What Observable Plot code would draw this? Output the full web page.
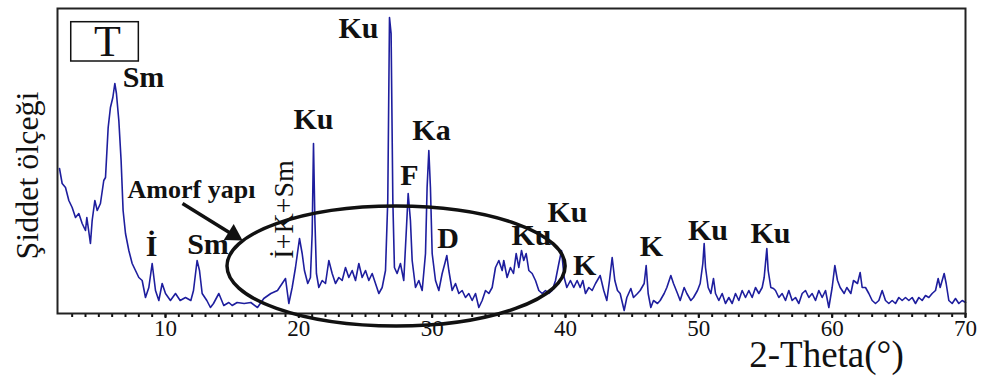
<!DOCTYPE html>
<html><head><meta charset="utf-8">
<script src="https://cdn.jsdelivr.net/npm/d3@7"></script>
<script src="https://cdn.jsdelivr.net/npm/@observablehq/plot@0.6"></script>
<style>body{margin:0;background:#fff} svg{display:block}</style>
</head><body><div id="chart"></div>
<script>
// XRD trace: 2-theta (degrees) and relative intensity
const theta = [2.05,2.25,2.5,2.75,3.0,3.25,3.5,3.75,4.0,4.1,4.37,4.5,4.7,4.88,5.12,5.37,5.5,5.7,5.87,6.05,6.2,6.32,6.5,6.67,6.82,7.0,7.25,7.5,7.75,8.0,8.25,8.5,8.75,9.0,9.25,9.5,9.75,10.0,10.37,10.75,11.1,11.5,11.9,12.1,12.37,12.55,12.75,13.1,13.37,13.6,14.0,14.37,14.75,15.0,15.37,15.9,16.4,16.9,17.37,17.9,18.4,18.75,19.0,19.25,19.5,19.75,20.05,20.25,20.42,20.67,20.87,21.0,21.1,21.2,21.32,21.5,21.75,22.0,22.25,22.5,22.75,23.0,23.25,23.5,23.75,24.0,24.25,24.5,24.75,25.0,25.25,25.5,25.75,26.0,26.25,26.5,26.67,26.8,26.92,27.05,27.17,27.37,27.62,27.87,28.05,28.2,28.37,28.5,28.75,29.0,29.25,29.5,29.62,29.75,29.87,30.0,30.25,30.5,30.75,30.95,31.1,31.25,31.5,31.75,32.0,32.25,32.5,32.75,33.0,33.25,33.5,33.75,34.0,34.25,34.5,34.75,35.0,35.25,35.37,35.62,35.87,36.1,36.3,36.5,36.7,36.87,37.05,37.25,37.5,37.75,38.0,38.25,38.5,38.75,39.0,39.25,39.5,39.7,39.9,40.1,40.37,40.62,40.87,41.1,41.3,41.5,41.75,42.0,42.25,42.6,42.87,43.1,43.3,43.5,43.7,43.9,44.1,44.4,44.6,44.9,45.1,45.4,45.6,45.9,46.05,46.2,46.4,46.6,46.9,47.1,47.4,47.6,47.9,48.1,48.4,48.6,48.9,49.1,49.4,49.6,49.9,50.1,50.3,50.4,50.5,50.7,50.9,51.1,51.25,51.5,51.75,52.0,52.25,52.5,52.75,53.0,53.25,53.5,53.75,54.0,54.25,54.5,54.75,54.9,55.1,55.2,55.4,55.6,55.75,56.0,56.25,56.5,56.75,57.0,57.25,57.5,57.75,58.0,58.25,58.5,58.75,59.0,59.25,59.5,59.75,60.0,60.2,60.4,60.6,60.9,61.1,61.4,61.6,61.9,62.1,62.25,62.5,62.75,63.0,63.25,63.5,63.75,64.0,64.25,64.5,64.75,65.0,65.25,65.5,65.75,66.0,66.25,66.5,66.75,67.0,67.25,67.5,67.75,67.95,68.1,68.4,68.55,68.75,69.0,69.25,69.5,69.75,70.0];
const intensity = [145,130,126,113,106,96,100,90,83,96,70,93,113,103,110,133,136,186,206,216,230,220,193,153,103,80,63,50,43,36,33,16,26,50,23,13,30,20,13,20,13,16,13,23,53,43,20,13,6,10,20,8,11,8,11,10,11,6,15,20,23,30,35,10,26,46,75,60,43,30,36,80,170,96,40,26,33,30,53,40,30,36,33,46,36,43,33,50,36,43,33,40,30,20,26,43,113,296,280,113,46,40,50,33,80,120,93,53,26,33,23,60,126,163,126,60,33,23,40,50,58,43,23,30,20,23,16,20,13,20,6,13,23,20,26,46,53,43,53,36,46,40,60,46,63,53,60,43,40,33,23,20,23,20,23,33,50,63,36,26,33,26,33,26,33,20,26,23,30,38,23,13,33,56,33,23,20,3,16,25,16,20,23,30,48,20,6,13,10,13,20,26,38,30,20,13,26,20,13,16,23,30,50,70,46,26,20,35,20,13,20,10,16,10,20,13,23,16,23,16,26,20,26,36,65,43,26,25,23,16,20,13,23,13,16,10,20,23,16,20,13,23,16,23,6,26,48,33,26,20,26,20,33,30,41,26,26,20,13,10,13,23,13,10,13,10,16,13,16,13,16,10,16,13,18,16,20,23,35,26,40,30,13,10,15,10,13,11];

// Axis ticks
const majorTicks = [10, 20, 30, 40, 50, 60, 70];
const minorTicks = d3.range(3, 71);

// Phase labels (bold) at their positions
const peakText  = ["Sm", "Ku", "Ku", "Ka", "F", "D", "Ku", "Ku", "K", "K", "Ku", "Ku", "İ", "Sm"];
const peakTheta = [8.35, 24.475, 21.1, 29.95, 28.3, 31.2, 37.45, 40.15, 41.43, 46.45, 50.69, 55.375, 8.95, 13.19];
const peakInt   = [236, 285, 194, 183, 138, 75, 78, 101, 48, 67, 83, 80.5, 67.5, 69.5];

// Other annotations
const amorfText = ["Amorf yapı"]; const amorfTheta = [11.95]; const amorfInt = [124];
const mixText = ["İ+K+Sm"]; const mixTheta = [18.925]; const mixInt = [104];
const sampleText = ["T"]; const sampleTheta = [5.65]; const sampleInt = [271.5];
const sampleBox = [2.93, 8.0, 252, 291.3];           // x1, x2, y1, y2
const arrowTail = [11.275, 110]; const arrowHead = [15.09, 78.6];
const ellipseSpec = [27.33, 47, 12.68, 60];          // cx, cy, rx, ry (data units)
const xLabel = ["2-Theta(°)"]; const xLabelPos = [59.575, -42];
const yLabel = ["Şiddet ölçeği"]; const yLabelPos = [-0.35, 138];

const serif = "'Liberation Serif', 'Times New Roman', serif";
const trace = theta.map((t, i) => ({t, v: intensity[i]}));
const peaks = peakText.map((s, i) => ({s, x: peakTheta[i], y: peakInt[i]}));

const plot = Plot.plot({
  width: 981, height: 379,
  marginLeft: 57, marginRight: 16, marginTop: 8, marginBottom: 66,
  x: {domain: [1.9, 70], label: null},
  y: {domain: [0, 305], axis: null, label: null},
  style: {fontFamily: serif, background: "white", color: "#111"},
  marks: [
    Plot.axisX({ticks: minorTicks, tickSize: 4, strokeWidth: 2, tickFormat: () => "", label: null}),
    Plot.axisX({ticks: majorTicks, tickSize: 5, strokeWidth: 2, tickFormat: () => "", label: null}),
    Plot.text(majorTicks, {x: d => d, frameAnchor: "bottom", dy: 22, text: d => String(d), fontSize: 23, fontFamily: serif, fill: "#111"}),
    Plot.line(trace, {x: "t", y: "v", stroke: "#1e1e9e", strokeWidth: 1.6}),
    Plot.frame({stroke: "#222", strokeWidth: 2}),
    Plot.text(peaks, {x: "x", y: "y", text: "s", fontSize: 30, fontWeight: "bold", fill: "#111"}),
    Plot.text(amorfText, {x: () => amorfTheta[0], y: () => amorfInt[0], text: d => d, fontSize: 26, fontWeight: "bold", fill: "#111"}),
    Plot.text(mixText, {x: () => mixTheta[0], y: () => mixInt[0], text: d => d, fontSize: 28, rotate: -90, fill: "#111"}),
    Plot.rect([sampleBox], {x1: d => d[0], x2: d => d[1], y1: d => d[2], y2: d => d[3], fill: "none", stroke: "#111", strokeWidth: 1.5}),
    Plot.text(sampleText, {x: () => sampleTheta[0], y: () => sampleInt[0], text: d => d, fontSize: 44, fill: "#111"}),
    Plot.link([0], {x1: () => arrowTail[0], y1: () => arrowTail[1], x2: () => arrowHead[0], y2: () => arrowHead[1], stroke: "#111", strokeWidth: 3.5}),
    Plot.dot([0], {x: () => arrowHead[0], y: () => arrowHead[1], symbol: "triangle", r: 7, fill: "#111", stroke: "none", rotate: 121.7}),
    Plot.text(xLabel, {x: () => xLabelPos[0], y: () => xLabelPos[1], text: d => d, fontSize: 37, fill: "#111"}),
    Plot.text(yLabel, {x: () => yLabelPos[0], y: () => yLabelPos[1], text: d => d, fontSize: 32, rotate: -90, fill: "#111"})
  ]
});

// Ellipse highlighting the amorphous hump, positioned through the plot's scales
const sx = plot.scale("x"), sy = plot.scale("y");
const [ecx, ecy, erx, ery] = ellipseSpec;
d3.select(plot).append("ellipse")
  .attr("cx", sx.apply(ecx)).attr("cy", sy.apply(ecy))
  .attr("rx", sx.apply(ecx + erx) - sx.apply(ecx))
  .attr("ry", sy.apply(0) - sy.apply(ery))
  .attr("fill", "none").attr("stroke", "#111").attr("stroke-width", 3.5);

document.getElementById("chart").appendChild(plot);
</script>
</body></html>
